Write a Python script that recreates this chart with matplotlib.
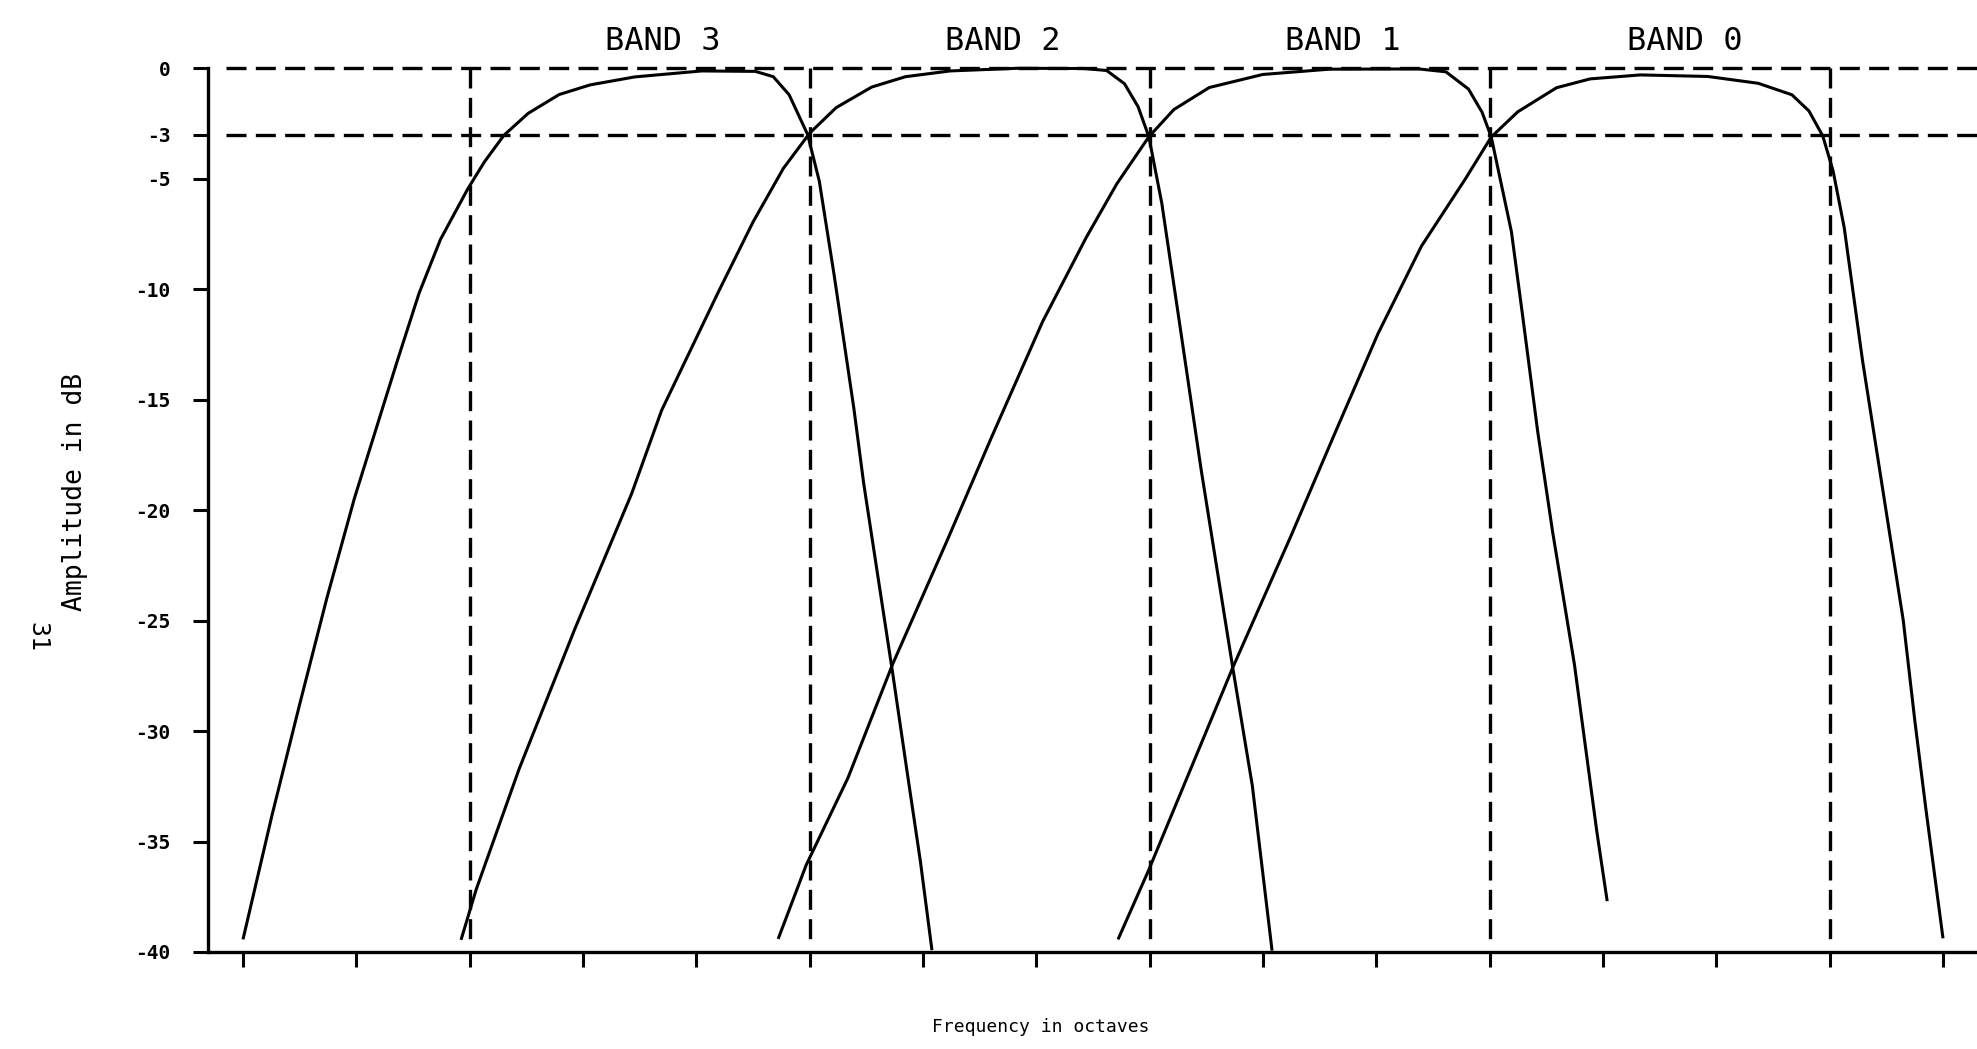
import matplotlib
matplotlib.use("Agg")
import matplotlib.pyplot as plt

# ---------------- data ----------------
# x in tick units along the frequency axis (ticks at 0..15), y in dB
band3_x = [0.00, 0.255, 0.498, 0.740, 0.985, 1.363, 1.553, 1.742, 1.981, 2.127, 2.301,
           2.516, 2.789, 3.064, 3.457, 4.048, 4.521, 4.679, 4.819, 4.982, 5.085, 5.215,
           5.389, 5.477, 5.733, 5.847, 5.977, 6.079]
band3_db = [-39.43, -33.83, -28.83, -23.98, -19.43, -13.22, -10.19, -7.75, -5.48, -4.26, -3.04,
            -2.04, -1.19, -0.75, -0.39, -0.12, -0.14, -0.38, -1.20, -3.00, -5.11, -9.33,
            -15.36, -18.80, -27.40, -31.40, -35.90, -39.92]

band2_x = [1.924, 2.057, 2.436, 2.931, 3.428, 3.694, 4.192, 4.500, 4.768, 5.001, 5.234,
           5.547, 5.846, 6.239, 6.83, 7.42, 7.62, 7.778, 7.898, 7.993, 8.107, 8.281,
           8.454, 8.733, 8.906, 9.08]
band2_db = [-39.45, -37.18, -31.72, -25.34, -19.27, -15.48, -10.15, -6.96, -4.53, -2.93, -1.78,
            -0.85, -0.38, -0.12, 0.00, -0.01, -0.10, -0.70, -1.74, -3.10, -6.11, -12.14,
            -18.16, -27.13, -32.48, -39.94]

band1_x = [4.722, 4.969, 5.338, 5.733, 6.216, 6.407, 6.598, 7.056, 7.44, 7.71, 7.993,
           8.213, 8.526, 8.998, 9.586, 10.376, 10.614, 10.813, 10.933, 11.014, 11.192,
           11.29, 11.424, 11.555, 11.748, 11.945, 12.037]
band1_db = [-39.41, -36.07, -32.12, -26.96, -21.34, -19.06, -16.78, -11.46, -7.66, -5.23, -3.10,
            -1.87, -0.87, -0.28, -0.04, -0.03, -0.16, -0.94, -1.99, -3.11, -7.40,
            -11.17, -16.45, -20.97, -26.99, -34.53, -37.70]

band0_x = [7.721, 7.99, 8.733, 9.25, 9.44, 9.63, 10.014, 10.397, 10.784, 11.014, 11.248,
           11.59, 11.886, 12.33, 12.924, 13.37, 13.667, 13.817, 13.939, 14.03,
           14.128, 14.29, 14.52, 14.649, 14.753, 14.85, 15.0]
band0_db = [-39.43, -36.31, -27.13, -21.13, -18.85, -16.57, -12.02, -8.06, -5.02, -3.11, -1.97,
            -0.88, -0.48, -0.30, -0.37, -0.68, -1.20, -1.93, -3.06, -4.64,
            -7.20, -13.23, -20.76, -24.98, -29.60, -33.57, -39.38]

band_names = ["BAND 3", "BAND 2", "BAND 1", "BAND 0"]
band_label_x = [3.70, 6.70, 9.70, 12.72]

ytick_values = [0, -3, -5, -10, -15, -20, -25, -30, -35, -40]
ytick_labels = ["0", "-3", "-5", "-10", "-15", "-20", "-25", "-30", "-35", "-40"]
xtick_values = list(range(0, 16))
ref_levels = [0, -3]                 # horizontal dashed reference lines (dB)
band_edges = [2, 5, 8, 11, 14]       # vertical dashed band edges

# ---------------- figure ----------------
W, H, DPI = 1977, 1049, 100
fig = plt.figure(figsize=(W / DPI, H / DPI), dpi=DPI)
fig.patch.set_facecolor("white")
ax = fig.add_axes([0.1052, 0.0925, 0.8948, 0.8424])
ax.set_xlim(-0.309, 15.30)
ax.set_ylim(-40, 0)

mono = "DejaVu Sans Mono"
curve_kw = dict(color="black", lw=2.2, solid_capstyle="butt",
                solid_joinstyle="round", clip_on=False)
dash_kw = dict(color="black", lw=2.4, linestyle=(0, (6, 2.8)), clip_on=False)

# reference dashed lines
for lvl in ref_levels:
    ax.plot([-0.15, 15.35], [lvl, lvl], **dash_kw)
for xe in band_edges:
    ax.plot([xe, xe], [0, -39.5], **dash_kw)

# filter responses
for xs, ys in [(band3_x, band3_db), (band2_x, band2_db),
               (band1_x, band1_db), (band0_x, band0_db)]:
    ax.plot(xs, ys, **curve_kw)

# band labels
for name, xl in zip(band_names, band_label_x):
    ax.text(xl, 1.2, name, ha="center", va="center", fontsize=23,
            family=mono, clip_on=False)

# spines
for s in ["top", "right"]:
    ax.spines[s].set_visible(False)
ax.spines["left"].set_linewidth(2.4)
ax.spines["bottom"].set_linewidth(2.4)
ax.spines["left"].set_bounds(-40, 0)

ax.set_yticks(ytick_values)
ax.set_yticklabels(ytick_labels, family=mono, fontsize=14, fontweight="bold")
ax.set_xticks(xtick_values)
ax.set_xticklabels([])
ax.tick_params(axis="y", direction="out", length=11, width=2.2, pad=16)
ax.tick_params(axis="x", direction="out", length=11, width=2.2)

ax.set_facecolor("white")

# axis titles and margin note
fig.text(1041 / W, 1 - 1027 / H, "Frequency in octaves", ha="center", va="center",
         fontsize=13, family=mono)
fig.text(75 / W, 1 - 492 / H, "Amplitude in dB", ha="center", va="center",
         rotation=90, fontsize=19, family=mono)
fig.text(37 / W, 1 - 637 / H, "31", ha="center", va="center",
         rotation=-90, fontsize=18, family=mono)

fig.savefig("out.png", dpi=DPI, facecolor="white")
